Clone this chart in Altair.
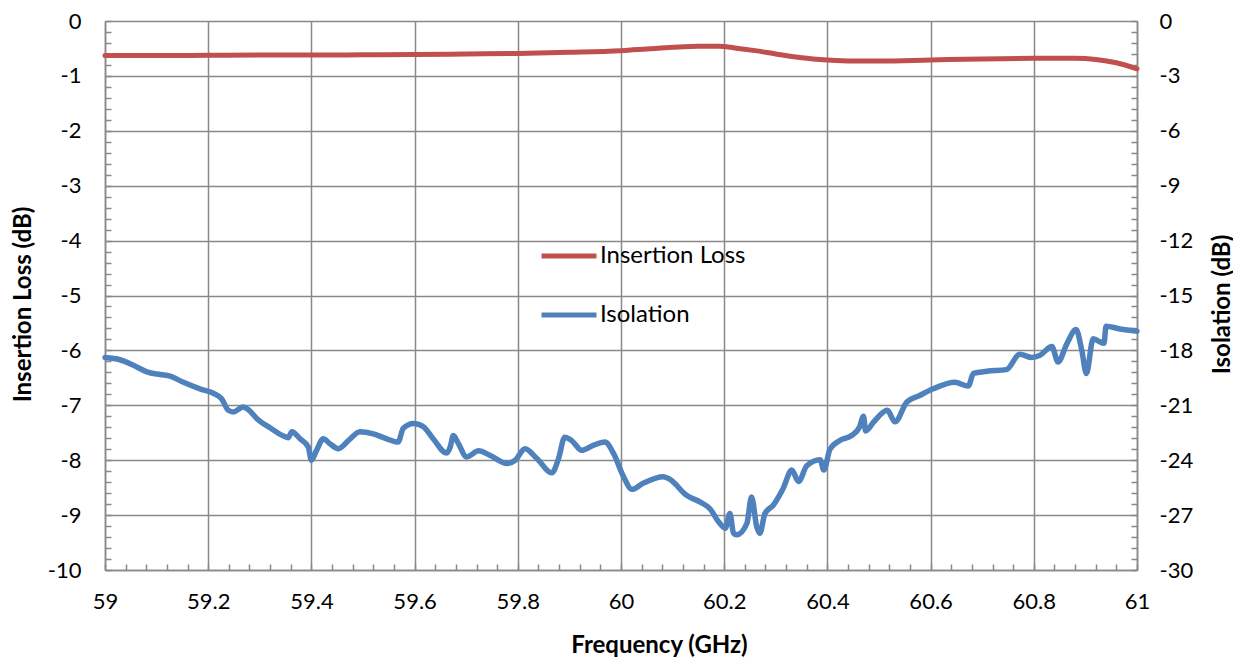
import altair as alt
import pandas as pd

# ---------------- data ----------------
il_freq = [59.0, 59.1, 59.2, 59.3, 59.4, 59.5, 59.6, 59.7, 59.8, 59.9, 60.0, 60.05, 60.1,
           60.15, 60.19, 60.22, 60.26, 60.3, 60.35, 60.4, 60.45, 60.5, 60.6, 60.7, 60.8,
           60.88, 60.92, 60.96, 61.0]
il_db = [-0.63, -0.63, -0.625, -0.62, -0.62, -0.615, -0.61, -0.60, -0.59, -0.57, -0.54, -0.51,
         -0.48, -0.46, -0.46, -0.49, -0.54, -0.60, -0.67, -0.71, -0.73, -0.73, -0.71, -0.69,
         -0.68, -0.68, -0.70, -0.76, -0.87]

iso_freq = [59.000, 59.029, 59.055, 59.081, 59.107, 59.126, 59.152, 59.184, 59.210, 59.226,
            59.239, 59.249, 59.268, 59.278, 59.294, 59.320, 59.346, 59.355, 59.362, 59.378,
            59.394, 59.400, 59.410, 59.423, 59.436, 59.452, 59.472, 59.494, 59.520, 59.546,
            59.568, 59.578, 59.598, 59.617, 59.636, 59.662, 59.669, 59.675, 59.685, 59.701,
            59.724, 59.746, 59.779, 59.795, 59.814, 59.837, 59.866, 59.879, 59.891, 59.904,
            59.924, 59.946, 59.969, 59.985, 60.005, 60.021, 60.043, 60.082, 60.095, 60.127,
            60.153, 60.172, 60.189, 60.202, 60.211, 60.218, 60.224, 60.244, 60.253, 60.263,
            60.269, 60.279, 60.295, 60.314, 60.331, 60.344, 60.360, 60.386, 60.393, 60.405,
            60.424, 60.447, 60.462, 60.470, 60.474, 60.490, 60.516, 60.531, 60.554, 60.579,
            60.605, 60.647, 60.673, 60.683, 60.709, 60.747, 60.773, 60.796, 60.812, 60.835,
            60.847, 60.864, 60.882, 60.893, 60.902, 60.915, 60.936, 60.940, 60.967, 61.000]
iso_db = [-18.39, -18.51, -18.81, -19.17, -19.32, -19.41, -19.74, -20.10, -20.34, -20.64,
          -21.27, -21.36, -21.09, -21.24, -21.72, -22.23, -22.68, -22.77, -22.44, -22.83,
          -23.28, -24.00, -23.46, -22.83, -23.10, -23.37, -22.92, -22.44, -22.56, -22.83,
          -23.01, -22.26, -21.99, -22.17, -22.83, -23.61, -23.28, -22.65, -23.10, -23.82,
          -23.49, -23.73, -24.18, -24.00, -23.37, -23.91, -24.69, -23.91, -22.74, -22.92,
          -23.46, -23.19, -23.01, -23.60, -24.90, -25.59, -25.26, -24.90, -25.05, -25.92,
          -26.28, -26.64, -27.36, -27.72, -26.91, -27.99, -28.08, -27.45, -26.01, -27.63,
          -27.99, -26.91, -26.46, -25.56, -24.54, -25.17, -24.30, -23.97, -24.54, -23.40,
          -22.92, -22.65, -22.20, -21.60, -22.40, -21.90, -21.27, -21.90, -20.82, -20.46,
          -20.10, -19.74, -19.95, -19.26, -19.14, -19.05, -18.21, -18.39, -18.27, -17.79,
          -18.63, -17.64, -16.86, -18.00, -19.26, -17.37, -17.61, -16.68, -16.83, -16.95]

x_major = [59, 59.2, 59.4, 59.6, 59.8, 60, 60.2, 60.4, 60.6, 60.8, 61]
x_minor = [round(59 + 0.04 * i, 2) for i in range(51)]
y_left_major = [0, -1, -2, -3, -4, -5, -6, -7, -8, -9, -10]
y_left_minor = [round(-0.2 * i, 1) for i in range(51)]
y_right_major = [0, -3, -6, -9, -12, -15, -18, -21, -24, -27, -30]
y_right_minor = [round(-0.6 * i, 1) for i in range(51)]

series = ["Insertion Loss", "Isolation"]
colors = ["#C0504D", "#4F81BD"]

il_df = pd.DataFrame({"f": il_freq, "v": il_db, "s": series[0]})
iso_df = pd.DataFrame({"f": iso_freq, "v": iso_db, "s": series[1]})

W, H = 1032, 549
GRAY = "#898989"
FONT = "Lato"
LBL = 22
TTL = 24

xscale = alt.Scale(domain=[59, 61], nice=False, zero=False)
color_scale = alt.Scale(domain=series, range=colors)
legend = alt.Legend(
    orient="none", legendX=434, legendY=205, direction="vertical", title=None,
    symbolType="stroke", symbolSize=3025, symbolStrokeWidth=5, labelFontSize=24,
    labelFont=FONT, labelColor="#000000", labelOffset=1, rowPadding=17,
)

l_il = alt.Chart(il_df).mark_line(interpolate="monotone", strokeWidth=5, strokeCap="round").encode(
    x=alt.X("f:Q", scale=xscale, axis=alt.Axis(
        values=x_major, grid=True, gridColor=GRAY, gridWidth=1.5, ticks=False, tickSize=0,
        domainColor=GRAY, domainWidth=1.5, labelPadding=21, labelFontSize=LBL, labelFont=FONT,
        labelColor="#000000", labelExpr="'' + datum.value", labelFlush=False,
        title="Frequency (GHz)", titleFont=FONT, titleFontSize=TTL, titleFontWeight="bold",
        titleColor="#000000", titleX=554, titleY=82, titleBaseline="alphabetic")),
    y=alt.Y("v:Q", scale=alt.Scale(domain=[-10, 0], nice=False, zero=False), axis=alt.Axis(
        values=y_left_major, grid=True, gridColor=GRAY, gridWidth=1.5, ticks=False, tickSize=0,
        domainColor=GRAY, domainWidth=1.5, labelPadding=24, labelFontSize=LBL, labelFont=FONT,
        labelColor="#000000", labelExpr="'' + datum.value",
        title="Insertion Loss (dB)", titleFont=FONT, titleFontSize=TTL, titleFontWeight="bold",
        titleColor="#000000", titleX=-82, titleY=283, titleBaseline="middle", titleAngle=270)),
    color=alt.Color("s:N", scale=color_scale, legend=legend),
)

l_iso = alt.Chart(iso_df).mark_line(interpolate="monotone", strokeWidth=5.5, strokeCap="round").encode(
    x=alt.X("f:Q", scale=xscale, axis=alt.Axis(
        orient="top", offset=-H, values=x_minor, grid=False, domain=False, labels=False,
        ticks=True, tickSize=6, tickColor=GRAY, tickWidth=1.5, title=None)),
    y=alt.Y("v:Q", scale=alt.Scale(domain=[-30, 0], nice=False, zero=False), axis=alt.Axis(
        orient="right", values=y_right_major, grid=False, ticks=False, tickSize=0,
        domainColor=GRAY, domainWidth=1.5, labelPadding=22, labelFontSize=LBL, labelFont=FONT,
        labelColor="#000000", labelExpr="'' + datum.value", labelAlign="left",
        title="Isolation (dB)", titleFont=FONT, titleFontSize=TTL, titleFontWeight="bold",
        titleColor="#000000", titleX=85, titleY=283, titleBaseline="middle", titleAngle=270)),
    color=alt.Color("s:N", scale=color_scale, legend=legend),
)

l_m1 = alt.Chart(il_df).mark_point(opacity=0).encode(
    x=alt.X("f:Q", scale=xscale, axis=None),
    y=alt.Y("v:Q", scale=alt.Scale(domain=[-10, 0], nice=False, zero=False), axis=alt.Axis(
        orient="right", offset=-W, values=y_left_minor, grid=False, domain=False, labels=False,
        ticks=True, tickSize=6, tickColor=GRAY, tickWidth=1.5, title=None)),
)

l_m2 = alt.Chart(iso_df).mark_point(opacity=0).encode(
    x=alt.X("f:Q", scale=xscale, axis=None),
    y=alt.Y("v:Q", scale=alt.Scale(domain=[-30, 0], nice=False, zero=False), axis=alt.Axis(
        orient="left", offset=-W, values=y_right_minor, grid=False, domain=False, labels=False,
        ticks=True, tickSize=6, tickColor=GRAY, tickWidth=1.5, title=None)),
)

chart = alt.layer(l_il, l_iso, l_m1, l_m2).resolve_scale(
    y="independent"
).resolve_axis(
    x="independent", y="independent"
).properties(
    width=W, height=H,
    padding={"left": 97, "top": 13, "right": 96, "bottom": 87},
    autosize=alt.AutoSizeParams(type="none"),
    background="white",
).configure_view(stroke=None)

chart.save("out.html", embed_options={"renderer": "svg", "actions": False})
